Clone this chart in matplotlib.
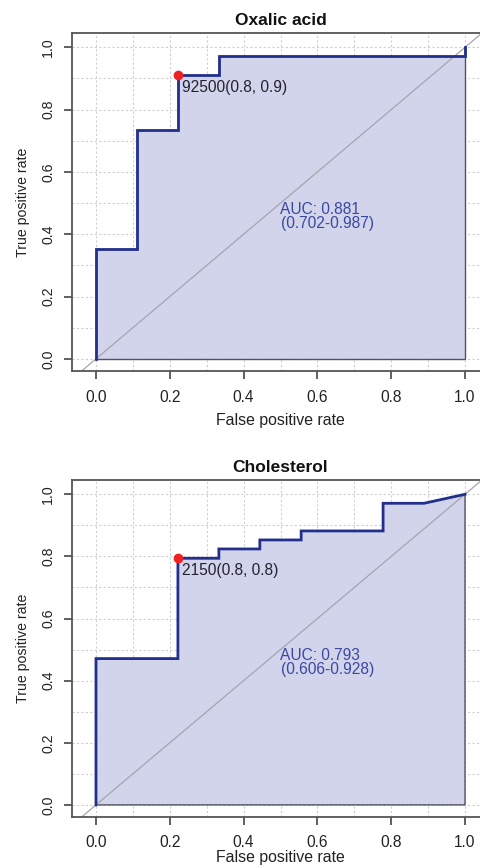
import matplotlib
matplotlib.use("Agg")
import matplotlib.pyplot as plt
import numpy as np

plt.rcParams['font.family'] = ['Liberation Sans', 'DejaVu Sans']

# ---- data ----
titles = ["Oxalic acid", "Cholesterol"]
ox_fpr = [0.0, 0.0, 0.111, 0.111, 0.222, 0.222, 0.333, 0.333, 1.0, 1.0]
ox_tpr = [0.0, 0.353, 0.353, 0.735, 0.735, 0.912, 0.912, 0.971, 0.971, 1.0]
ch_fpr = [0.0, 0.0, 0.222, 0.222, 0.333, 0.333, 0.444, 0.444, 0.556, 0.556, 0.778, 0.778, 0.889, 1.0]
ch_tpr = [0.0, 0.471, 0.471, 0.794, 0.794, 0.824, 0.824, 0.853, 0.853, 0.882, 0.882, 0.971, 0.971, 1.0]
best_pts = [(0.222, 0.912), (0.222, 0.794)]
best_labels = ["92500(0.8, 0.9)", "2150(0.8, 0.8)"]
auc_texts = ["AUC: 0.881\n(0.702-0.987)", "AUC: 0.793\n(0.606-0.928)"]
ticks = [0.0, 0.2, 0.4, 0.6, 0.8, 1.0]
tick_labels = ["0.0", "0.2", "0.4", "0.6", "0.8", "1.0"]
grid_pos = [i / 10 for i in range(11)]

curves = [(ox_fpr, ox_tpr), (ch_fpr, ch_tpr)]

fill_c = '#d0d2ea'
line_c = '#22308c'
auc_c = '#3a48a0'

fig = plt.figure(figsize=(4.81, 8.68), dpi=100)
positions = [[72/481, 1-370.7/868, 417/481, 337.7/868],
             [72/481, 1-816.7/868, 417/481, 336.7/868]]
fs_h = 11.2   # horizontal text
fs_v = 10.2   # rotated text
xlabel_pads = [6, 0]
xtick_pads = [8, 7]

for i in range(2):
    ax = fig.add_axes(positions[i])
    fpr, tpr = curves[i]
    ax.set_xlim(-0.065, 1.065)
    ax.set_ylim(-0.038, 1.046)
    # grid
    for g in grid_pos:
        ax.axvline(g, color='#cfcfcf', lw=0.8, ls=(0, (2, 2)), zorder=0)
        ax.axhline(g, color='#cfcfcf', lw=0.8, ls=(0, (2, 2)), zorder=0)
    # polygon
    px = list(fpr) + [fpr[-1], fpr[0]]
    py = list(tpr) + [0.0, 0.0]
    ax.fill(px, py, facecolor=fill_c, edgecolor='#4a4a5a', lw=1.0, alpha=0.95, zorder=1)
    # diagonal
    ax.axline((0, 0), slope=1, color='#a5a5ad', lw=0.9, zorder=2)
    # roc
    ax.plot(fpr, tpr, color=line_c, lw=2.0, zorder=3, solid_joinstyle='miter')
    # best point
    bx, by = best_pts[i]
    ax.plot([bx], [by], 'o', color='#ee2222', ms=6, zorder=4)
    ax.annotate(best_labels[i], (bx, by), xytext=(3, -9), textcoords='offset points',
                ha='left', va='center', fontsize=fs_h, color='#222230', zorder=5)
    ax.text(0.5, 0.458, auc_texts[i], ha='left', va='center', fontsize=fs_h,
            color=auc_c, linespacing=0.92, zorder=5)
    ax.set_xticks(ticks)
    ax.set_xticklabels(tick_labels)
    ax.set_yticks(ticks)
    ax.set_yticklabels(tick_labels, rotation=90, va='center')
    ax.tick_params(axis='both', direction='out', length=6, width=1.2, color='#444444',
                   labelcolor='#222222')
    ax.tick_params(axis='x', labelsize=fs_h, pad=xtick_pads[i])
    ax.tick_params(axis='y', labelsize=fs_v, pad=6)
    for s in ax.spines.values():
        s.set_color('#555555')
        s.set_linewidth(1.3)
    ax.set_xlabel("False positive rate", fontsize=fs_h + 0.2, color='#222222',
                  labelpad=xlabel_pads[i])
    ax.set_ylabel("True positive rate", fontsize=fs_v, color='#222222', labelpad=8)
    ax.set_title(titles[i], fontsize=12.5, fontweight='bold', color='#111111', pad=6)

fig.savefig("out.png", dpi=100)
